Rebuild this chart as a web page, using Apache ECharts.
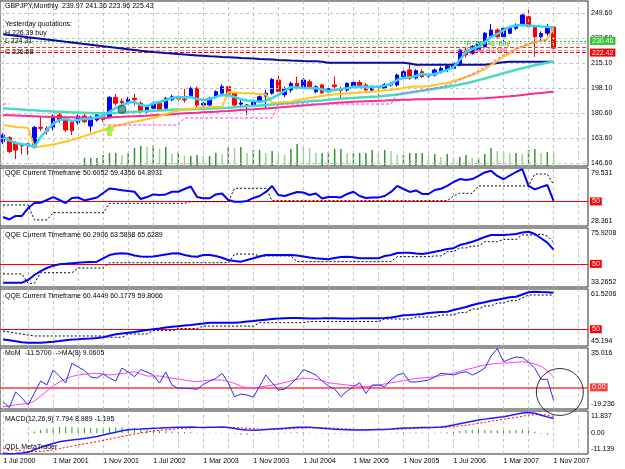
<!DOCTYPE html>
<html>
<head>
<meta charset="utf-8">
<title>GBPJPY Monthly</title>
<script src="https://cdn.jsdelivr.net/npm/echarts@6.0.0/dist/echarts.min.js"></script>
<style>
  html, body { margin: 0; padding: 0; background: #fff; }
  #chart { width: 625px; height: 469px; }
</style>
</head>
<body>
<div id="chart"></div>
<script>
// monthly bars Jul 2000 .. Nov 2007 (89 bars), plus 5 empty slots of chart shift
const monthNames = ['Jan','Feb','Mar','Apr','May','Jun','Jul','Aug','Sep','Oct','Nov','Dec'];
const months = [];
for (let k = 0; k < 94; k++) {
  const m = 6 + k;
  months.push((2000 + Math.floor(m / 12)) + '-' + String(m % 12 + 1).padStart(2, '0'));
}

// [open, close, low, high]
const ohlc = [
  [161.2,165.8,159.5,167.0],[164.0,154.5,153.5,165.0],[160.5,155.5,149.3,161.5],[159.5,158.3,152.5,160.0],
  [159.8,158.5,152.0,160.5],[157.4,171.1,156.5,172.0],[171.1,170.4,168.5,178.0],[170.4,168.5,166.0,172.0],
  [171.1,178.9,169.0,180.0],[179.6,176.1,174.0,181.0],[177.3,169.3,168.0,179.0],[175.0,168.8,165.8,176.0],
  [174.3,178.9,173.0,180.0],[178.9,175.0,174.0,180.5],[172.0,178.0,168.1,179.0],[176.1,179.6,175.0,181.0],
  [179.0,176.5,175.0,181.0],[178.0,191.7,177.0,192.5],[191.7,187.6,186.0,194.0],[189.0,188.0,186.0,191.0],
  [188.5,190.5,187.0,192.0],[191.0,190.0,186.0,194.0],[187.6,181.8,180.0,189.0],[181.8,185.3,180.0,186.5],
  [184.2,187.6,183.0,189.0],[187.6,183.0,182.0,189.0],[184.2,191.0,183.0,192.0],[190.0,192.1,189.0,193.5],
  [192.1,190.5,189.0,193.0],[190.5,189.9,188.0,197.5],[192.1,197.9,191.0,199.0],[197.9,186.4,185.0,199.0],
  [186.4,187.5,185.0,188.5],[186.4,191.0,185.0,192.0],[192.1,195.6,191.0,196.5],[194.5,199.0,193.5,200.5],
  [199.0,194.0,193.0,200.0],[194.5,186.4,185.5,195.5],[187.0,187.8,184.2,191.0],[186.0,186.5,179.6,187.0],
  [186.5,189.5,185.0,190.5],[188.7,192.1,188.0,193.0],[192.5,194.5,184.2,196.7],[194.5,204.0,193.5,205.0],
  [203.6,195.6,194.0,208.6],[193.5,197.5,192.0,199.0],[196.7,201.3,195.0,202.5],[201.3,199.0,197.0,205.9],
  [199.0,203.6,198.0,205.0],[202.4,199.0,197.5,204.0],[195.6,199.0,194.5,200.0],[200.2,194.9,194.0,201.0],
  [195.5,197.5,194.0,198.5],[200.2,199.0,196.0,206.0],[197.0,196.5,191.0,199.0],[196.7,201.3,195.5,202.0],
  [199.5,202.0,198.0,203.0],[202.0,199.0,198.0,203.5],[200.2,196.7,195.5,201.5],[196.7,199.0,196.0,200.0],
  [199.0,198.5,192.1,200.2],[198.0,200.5,197.0,201.5],[200.2,201.3,199.0,202.0],[200.2,207.0,199.0,208.0],
  [205.9,209.3,205.0,210.5],[210.5,204.8,203.5,215.5],[205.0,210.0,204.0,211.0],[209.3,205.9,205.0,211.0],
  [206.5,207.0,205.0,208.5],[207.0,210.5,206.0,211.5],[209.3,211.6,208.0,213.0],[211.0,213.0,209.0,214.0],
  [211.6,215.1,210.5,216.0],[213.9,224.2,213.0,225.0],[224.2,220.8,219.0,225.5],[222.0,226.5,221.0,227.5],
  [224.2,228.8,223.0,230.0],[226.5,235.7,226.0,236.5],[233.3,237.9,232.0,242.0],[237.9,233.3,232.0,239.0],
  [233.3,239.1,230.0,240.0],[235.7,239.1,235.0,240.0],[239.1,241.4,238.0,242.5],[241.4,248.2,240.5,249.5],
  [247.0,240.2,239.0,251.7],[240.2,233.3,219.6,241.0],[233.3,235.5,230.0,237.0],[235.7,239.1,234.0,242.0],
  [239.97,225.43,223.96,241.36]
];

// moving averages on the price window
const maFast = [164.4,162.1,160.3,159.5,158.9,157.6,164.4,169.3,173.4,176.1,176.8,175.4,176.1,176.8,176.8,178.2,178.9,181.8,184.4,186.4,
  188.1,188.5,186.4,185.7,187.6,188.5,189.9,191.2,191.7,191.7,191.9,190.5,189.9,190.5,191.9,193.3,193.0,191.9,190.5,189.5,
  189.2,188.7,189.2,191.2,193.3,196.0,198.8,198.4,198.1,197.9,197.9,197.1,196.0,196.7,197.4,197.9,198.8,199.0,198.8,199.0,
  199.0,199.8,200.9,203.6,205.0,205.4,206.3,207.7,207.0,207.7,209.1,210.5,212.5,217.3,222.8,224.9,226.5,229.7,233.1,235.2,
  237.9,240.0,241.0,241.4,241.0,240.7,240.3,240.2,239.5];
const maYellow = [172.7,172.0,171.3,171.1,170.6,157.6,157.9,158.6,159.3,160.3,161.4,162.4,163.8,165.1,166.5,167.9,169.3,170.6,172.0,173.0,
  174.1,174.9,175.8,176.6,177.5,178.9,180.2,181.6,182.7,183.3,183.9,184.4,184.7,185.0,185.2,185.2,195.3,195.0,194.7,194.5,
  194.3,194.0,193.6,187.8,188.1,188.5,188.7,189.9,190.5,191.2,191.9,192.6,193.3,193.6,194.0,194.3,194.7,195.0,195.3,195.6,
  196.0,196.4,196.7,197.4,198.1,198.8,199.1,199.0,199.5,200.2,200.9,201.5,202.9,204.3,205.7,207.0,209.1,211.1,213.9,216.6,
  219.4,222.1,224.9,226.5,228.3,229.7,230.4,231.7,239.3];
const maPink = [179.6,179.4,179.2,179.0,178.9,178.7,178.5,178.4,178.2,178.2,178.1,178.0,177.8,177.7,177.5,177.5,177.3,177.8,178.2,178.3,
  178.5,178.7,178.9,179.1,179.4,179.6,179.8,180.1,180.4,180.7,180.9,181.1,181.4,181.6,181.8,182.1,182.3,182.7,183.0,183.3,
  183.5,183.8,184.1,184.4,184.7,185.1,185.4,185.7,186.1,186.4,186.8,187.1,187.5,187.8,188.1,188.4,188.6,188.8,189.0,189.2,
  189.4,189.5,189.7,189.9,190.0,190.1,190.3,190.3,190.4,190.5,190.6,190.6,190.6,190.6,190.7,190.8,190.9,191.1,191.4,191.7,
  192.1,192.4,192.8,193.3,193.8,194.3,194.7,195.1,195.5];
const maTeal = [184.2,183.9,183.7,183.3,183.0,182.8,182.5,182.3,182.0,181.8,181.6,181.4,181.3,181.1,180.9,180.8,180.7,180.8,180.9,181.2,
  181.5,181.8,182.0,182.3,182.5,182.7,182.9,183.1,183.3,183.4,183.5,183.7,183.8,184.0,184.2,184.4,184.6,184.9,185.2,185.5,
  185.7,186.1,186.4,186.8,187.1,187.6,187.9,188.3,188.6,189.0,189.3,189.6,190.0,190.3,190.7,191.0,191.2,191.5,191.8,192.1,
  192.3,192.8,193.2,193.6,194.2,194.8,195.5,196.2,196.9,197.6,198.2,198.9,199.7,200.5,201.3,202.4,203.5,204.6,205.8,207.0,
  208.3,209.4,210.6,211.7,212.7,213.7,214.6,215.4,216.2];
const maNavy = [235.0,234.5,233.9,233.5,232.9,232.4,231.9,231.4,230.9,230.4,229.8,229.3,228.8,228.3,227.8,227.3,226.7,226.2,225.7,225.2,
  224.7,224.2,223.6,223.2,222.8,222.5,222.1,221.8,221.4,221.1,220.8,220.5,220.2,219.9,219.7,219.4,219.2,219.0,218.7,218.5,
  218.3,218.0,217.8,217.6,217.3,217.1,216.9,216.8,216.6,216.5,216.4,216.2,215.5,215.5,215.5,215.5,215.5,215.5,215.5,215.5,
  215.5,215.5,215.5,215.5,215.5,214.9,214.1,214.1,214.1,214.1,214.1,214.1,214.1,214.1,214.1,214.1,214.1,214.1,214.6,215.3,
  215.7,216.1,216.1,216.1,216.1,216.1,216.1,216.1,216.1];
const stopLine = [187.1,187.1,null,null,null,null,null,null,null,null,null,null,null,null,null,null,172.7,172.7,172.7,172.7,
  172.7,172.7,172.7,172.7,172.7,172.7,172.7,172.7,172.7,177.5,177.5,177.5,177.5,177.5,177.5,177.5,177.5,177.5,177.5,177.5,
  177.5,177.5,177.5,177.5,187.1,187.1,187.1,187.1,187.1,187.1,187.1,187.1,187.1,187.1,187.1,187.1,187.1,187.1,187.1,187.1,
  187.1,187.1,187.1,194.0,194.7,195.4,196.0,196.7,197.4,198.1,198.8,200.2,201.5,203.6,205.7,207.7,209.8,212.5,215.3,218.0,
  220.8,222.8,224.9,226.9,228.3,229.7,230.4,231.1,null];
const volume = [null,null,null,null,null,null,null,null,null,null,null,null,null,
  8,8,8,11,13,13,11,13,18,20,19,21,17,19,12,14,10,10,11,10,10,13,12,19,18,19,13,16,16,13,
  15,12,11,17,22,19,18,13,13,14,17,17,13,13,13,13,16,13,16,15,11,11,13,13,13,11,12,9,12,9,
  9,11,8,8,12,18,15,14,13,13,12,16,17,13,14,13];

const priceTicks = [146.6, 163.6, 180.6, 198.1, 215.1, 232.6, 249.6];
const greenLevels = [230.46, 228.8];
const redLevels = [226.4, 224.3, 222.42];
const taggedLevels = [230.46, 222.42];
const arrowMark = [[17, 169.3]];
const dotMark = [[19, 183.4]];

// QQE windows
const qqe1 = [36.3,34.1,37.2,37.2,44.2,48.65,48.9,51.3,53.9,51.3,48.65,53.1,53.5,50.9,52.2,53.5,57.5,61.4,60.7,59.9,
  59.2,58.6,52.2,53.9,56.2,55.7,56.2,58.6,58.6,61.0,63.2,53.9,52.8,52.8,56.2,57.0,51.3,49.8,49.8,50.4,
  53.1,54.8,58.4,63.7,55.7,54.8,56.6,58.4,57.9,55.7,57.0,52.6,53.9,53.9,53.6,56.6,58.6,54.8,53.1,53.5,
  53.6,54.8,58.4,63.7,61.0,58.4,59.7,56.6,56.6,60.1,61.2,63.7,67.2,69.8,68.9,69.8,72.5,75.6,77.1,72.5,
  69.6,72.9,76.0,78.5,63.7,60.7,62.7,64.5,50.6];
const qqe1Trail = [46.9,46.9,46.9,46.9,46.9,33.7,33.7,33.7,40.1,40.1,40.1,40.1,40.1,40.1,40.1,40.1,40.1,48.4,48.4,48.4,
  48.4,48.4,48.4,48.4,48.4,48.4,48.4,48.4,48.4,48.4,49.8,49.8,49.8,49.8,49.8,49.8,49.8,61.6,61.6,61.6,
  61.6,61.6,61.6,50.7,50.7,50.7,50.7,50.7,50.7,50.7,50.7,50.7,50.7,50.7,50.7,50.7,50.7,50.7,50.7,50.7,
  50.7,50.7,50.7,50.7,50.7,50.7,50.7,50.7,50.7,50.7,50.7,50.7,54.8,57.2,57.2,57.2,63.7,63.7,63.7,63.7,
  63.7,63.7,63.7,63.7,63.7,74.2,74.2,74.2,64.9];
const qqe2 = [36.4,36.4,36.4,36.4,38.3,41.95,44.8,47.0,48.7,49.7,50.0,50.4,50.8,51.1,51.4,51.6,53.9,56.4,57.3,57.6,
  57.3,56.0,55.3,55.2,55.3,56.0,56.8,57.5,57.6,56.4,55.5,55.2,56.4,56.4,55.7,54.4,52.8,52.1,51.6,52.8,
  54.0,55.3,56.4,56.4,56.4,56.4,56.4,56.0,55.3,54.6,54.1,53.7,53.3,54.2,54.9,55.2,54.7,54.0,54.0,54.0,
  54.0,55.7,56.4,57.8,58.1,58.1,57.5,57.1,57.8,58.8,59.7,60.7,61.3,63.6,64.7,66.0,67.6,69.4,70.9,70.9,
  70.9,71.2,71.6,72.7,73.2,71.6,68.5,65.3,60.3];
const qqe2Trail = [42.7,42.7,42.7,42.7,35.9,35.9,43.6,43.6,43.6,43.6,43.6,43.6,47.0,47.0,47.0,47.0,47.0,50.8,50.8,50.8,
  50.8,50.8,50.8,50.8,50.8,50.8,50.8,50.8,50.8,50.8,50.8,50.8,50.8,50.8,50.8,50.8,50.8,57.1,57.1,57.1,
  57.1,55.7,55.7,55.7,55.7,55.7,55.7,51.6,51.6,51.6,51.6,51.6,51.6,51.6,51.6,51.6,51.6,51.6,51.6,51.6,
  51.6,51.6,51.6,55.2,55.2,55.2,55.2,55.2,55.2,55.7,55.7,58.8,58.8,61.5,61.5,62.9,62.9,66.0,66.0,66.0,
  67.7,67.7,67.7,70.9,70.9,70.9,71.6,70.1,65.6];
const qqe3 = [47.06,46.83,46.57,46.28,46.14,46.14,46.14,46.28,46.43,46.63,46.86,47.06,47.14,47.26,47.37,47.49,47.69,48.12,48.55,48.78,
  49.01,49.23,49.49,49.75,49.98,50.21,50.47,50.70,50.87,51.04,51.21,51.44,51.64,51.87,51.87,51.87,51.87,51.87,52.01,52.21,
  52.36,52.56,52.73,52.90,53.07,53.13,53.18,53.20,53.15,53.10,53.10,53.12,53.15,53.13,53.10,53.08,53.10,53.12,53.15,53.13,
  53.13,53.22,53.36,53.65,54.02,54.10,54.22,54.36,54.65,54.79,54.93,55.02,55.51,55.93,56.36,56.94,57.37,57.74,58.14,58.43,
  58.80,59.14,59.32,59.95,60.58,60.75,60.66,60.58,60.44];
const qqe3Trail = [49.5,49.2,48.9,48.6,48.35,48.06,48.06,48.06,48.06,48.06,48.06,48.06,48.06,48.06,48.06,48.06,48.06,47.69,47.69,47.69,
  48.63,48.63,48.63,48.63,49.6,49.6,49.6,49.6,50.2,50.2,50.2,50.2,50.9,50.9,50.9,50.9,50.9,50.9,50.9,50.9,
  50.9,51.87,51.87,51.87,51.87,51.87,51.87,51.87,51.87,52.2,52.2,52.2,52.2,52.2,52.2,52.2,52.2,52.2,52.2,52.2,
  52.2,52.93,52.93,52.93,52.93,52.93,53.5,53.5,53.5,53.5,54.07,54.07,54.07,54.8,54.8,55.8,55.8,56.65,56.65,57.5,
  57.5,58.2,58.2,58.94,59.8,59.8,59.8,59.8,59.81];

// momentum and its MA(8)
const mom = [-13.0,-18.0,-4.1,-9.5,-15.7,-5.0,5.6,2.1,15.4,10.1,3.9,21.4,18.1,15.0,9.2,8.3,11.9,8.3,5.6,17.2,
  13.6,9.5,15.9,13.6,11.0,3.9,13.6,2.0,-0.8,-0.8,-1.2,-1.7,2.5,5.5,8.0,12.5,4.0,-8.3,-6.0,-6.8,
  -8.8,1.0,11.0,4.0,-2.3,-1.7,3.0,8.3,15.9,13.6,11.0,5.6,1.2,-1.5,-8.3,-3.2,0.6,4.1,-5.3,2.1,
  2.1,0.6,6.5,11.0,12.5,4.8,4.8,5.6,6.5,9.2,12.5,11.9,11.0,12.8,13.9,11.0,13.6,17.0,27.9,34.5,
  22.8,25.2,27.0,26.5,22.5,17.0,7.2,7.2,-11.57];
const momMa = [-17.2,-16.4,-15.6,-14.8,-14.4,-12.1,-7.7,-3.2,1.2,4.8,7.4,9.7,11.0,11.6,12.3,12.5,11.9,11.0,11.5,12.3,
  13.2,13.9,11.9,10.1,10.1,10.1,9.2,8.1,7.4,6.5,5.6,5.0,5.9,6.5,6.5,6.5,5.2,3.6,1.2,-0.8,
  -0.6,0.3,1.2,2.1,3.0,4.3,5.6,7.2,8.1,7.9,7.2,6.1,4.1,3.4,2.8,2.1,1.6,1.0,0.6,1.2,
  2.1,3.0,4.1,5.0,5.9,6.8,8.1,8.3,8.8,9.5,10.5,11.4,12.5,14.1,15.9,17.0,18.6,19.9,20.8,21.2,
  21.7,21.9,22.3,22.8,22.1,20.8,18.6,15.0,9.06];
const circleMark = [[89, -4.1]];

// MACD(12,26,9)
const macd = [-10.8,-11.0,-10.9,-10.6,-10.2,-8.9,-7.6,-6.5,-5.5,-4.6,-4.0,-3.6,-3.3,-2.8,-2.3,-1.8,-1.0,-0.2,0.5,1.3,
  1.8,2.1,2.2,2.4,2.6,2.7,2.9,3.0,3.1,3.2,3.3,3.1,3.0,3.1,3.2,3.3,3.0,2.5,2.0,1.7,
  1.6,1.7,2.0,2.2,2.4,2.6,2.9,3.1,3.2,3.1,2.9,2.6,2.3,2.1,1.9,1.8,1.7,1.7,1.7,1.8,
  1.9,2.0,2.2,2.5,2.7,2.8,2.9,3.0,3.0,3.1,3.3,3.7,4.3,5.0,5.7,6.4,7.0,7.5,8.0,8.4,
  8.8,9.4,10.1,10.8,11.0,10.6,9.6,8.7,7.79];
const macdSignal = [-8.0,-8.6,-9.1,-9.5,-9.8,-9.9,-9.8,-9.4,-8.9,-8.3,-7.6,-7.0,-6.3,-5.7,-5.1,-4.5,-3.9,-3.2,-2.5,-1.8,
  -1.1,-0.5,0.1,0.6,1.1,1.5,1.8,2.1,2.4,2.6,2.8,2.9,3.0,3.0,3.0,3.1,3.1,3.0,2.8,2.6,
  2.3,2.1,2.0,2.0,2.1,2.2,2.4,2.6,2.7,2.9,2.9,2.9,2.8,2.6,2.4,2.3,2.1,2.0,1.9,1.8,
  1.8,1.9,2.0,2.1,2.2,2.4,2.6,2.7,2.8,2.9,3.0,3.2,3.5,3.8,4.2,4.7,5.3,5.8,6.4,6.9,
  7.4,7.9,8.4,9.0,9.6,9.9,10.0,9.6,8.99];
const macdHist = [-0.3,-0.2,-0.1,0.1,0.3,0.9,1.8,2.5,3.0,3.3,3.4,3.3,3.0,2.9,2.8,2.7,2.9,3.0,3.0,3.1,
  2.9,2.6,2.1,1.8,1.5,1.2,1.1,0.9,0.7,0.6,0.5,0.2,0.1,0.1,0.2,0.2,-0.1,-0.5,-0.8,-0.9,
  -0.7,-0.4,0.1,0.2,0.3,0.4,0.5,0.5,0.5,0.2,0.1,-0.3,-0.5,-0.5,-0.5,-0.5,-0.4,-0.3,-0.2,0.1,
  0.1,0.1,0.2,0.4,0.5,0.4,0.3,0.3,0.2,0.2,0.3,0.5,0.8,1.2,1.5,1.7,1.7,1.7,1.6,1.5,
  1.4,1.5,1.7,1.8,1.4,0.7,-0.4,-0.9,-1.195];

// ---- layout ----
const FONT = 'Liberation Sans, Arial, sans-serif';
const panels = [
  { top: 1, height: 165 },
  { top: 168, height: 58 },
  { top: 228, height: 59 },
  { top: 289, height: 57 },
  { top: 348, height: 61 },
  { top: 411, height: 43 }
];
const vGrid = [];
for (let k = 0; k < months.length; k += 4) vGrid.push(k);

const grid = panels.map(p => ({
  left: 0, right: 37, top: p.top, height: p.height,
  show: true, borderColor: '#2a2a2a', borderWidth: 1, backgroundColor: '#fff'
}));

const xAxis = panels.map((p, i) => ({
  type: 'category', gridIndex: i, data: months, boundaryGap: true,
  axisLine: { show: false }, axisTick: { show: false }, splitLine: { show: false },
  axisLabel: i === panels.length - 1 ? {
    show: true, interval: 7, align: 'left', margin: 4, fontSize: 7, color: '#000', fontFamily: FONT,
    formatter: v => { const [y, m] = v.split('-'); return '1 ' + monthNames[+m - 1] + ' ' + y; }
  } : { show: false }
}));

function edgeAxis(gi, min, max, labels) {
  return {
    type: 'value', gridIndex: gi, position: 'right', min, max, scale: true,
    axisLine: { show: false }, axisTick: { show: false }, splitLine: { show: false },
    axisLabel: {
      customValues: labels.map(l => l[0]), margin: 3, fontSize: 7, color: '#000', fontFamily: FONT,
      formatter: v => {
        const hit = labels.find(l => Math.abs(l[0] - v) < 1e-6);
        const t = hit ? hit[1] : '';
        if (Math.abs(v - max) < 1e-6) return '{t|' + t + '}';
        if (Math.abs(v - min) < 1e-6) return '{b|' + t + '}';
        return t;
      },
      rich: {
        t: { padding: [10, 0, 0, 0], fontSize: 7, color: '#000', fontFamily: FONT },
        b: { padding: [0, 0, 10, 0], fontSize: 7, color: '#000', fontFamily: FONT }
      }
    }
  };
}

const yAxis = [
  {
    type: 'value', gridIndex: 0, position: 'right', min: 144.54, max: 257.84,
    axisLine: { show: false }, axisTick: { show: false }, splitLine: { show: false },
    axisLabel: { customValues: priceTicks, margin: 3, fontSize: 7, color: '#000', fontFamily: FONT, formatter: v => v.toFixed(2) }
  },
  { type: 'value', gridIndex: 0, min: 0, max: 165, show: false },
  edgeAxis(1, 28.361, 79.531, [[28.361, '28.361'], [79.531, '79.531']]),
  edgeAxis(2, 33.2652, 75.9208, [[33.2652, '33.2652'], [75.9208, '75.9208']]),
  edgeAxis(3, 45.194, 61.5206, [[45.194, '45.194'], [61.5206, '61.5206']]),
  edgeAxis(4, -19.236, 35.016, [[-19.236, '-19.236'], [35.016, '35.016']]),
  edgeAxis(5, -11.139, 11.837, [[-11.139, '-11.139'], [0, '0.00'], [11.837, '11.837']])
];

const gridLineStyle = { color: '#c4c4c4', width: 1, type: [3, 3] };
function gridSeries(gi, yi, hVals) {
  const data = vGrid.map(k => ({ xAxis: k }));
  (hVals || []).forEach(v => data.push({ yAxis: v }));
  return {
    type: 'line', xAxisIndex: gi, yAxisIndex: yi, data: [], z: 1, silent: true,
    markLine: { silent: true, symbol: ['none', 'none'], animation: false, label: { show: false }, lineStyle: gridLineStyle, data }
  };
}
function tagLine(value, color, text, width, type) {
  return {
    yAxis: value,
    lineStyle: { color, width: width || 1, type: type || 'solid' },
    label: text ? {
      show: true, position: 'end', formatter: text, distance: 2, fontSize: 7, fontFamily: FONT,
      color: '#fff', backgroundColor: color, padding: [1, 2, 0, 2]
    } : { show: false }
  };
}
function markSeries(gi, yi, lines, z) {
  return {
    type: 'line', xAxisIndex: gi, yAxisIndex: yi, data: [], z: z || 3, silent: true,
    markLine: { silent: true, symbol: ['none', 'none'], animation: false, data: lines }
  };
}
function line(gi, yi, data, color, width, type, z) {
  return {
    type: 'line', xAxisIndex: gi, yAxisIndex: yi, data, showSymbol: false, symbol: 'none',
    connectNulls: false, z: z || 5, silent: true,
    lineStyle: { color, width, type: type || 'solid' }
  };
}

const series = [
  // main price window
  gridSeries(0, 0, priceTicks),
  {
    type: 'bar', xAxisIndex: 0, yAxisIndex: 1, data: volume, barWidth: 1.5, z: 2, silent: true,
    itemStyle: { color: p => (p.dataIndex > 0 && volume[p.dataIndex - 1] != null && p.value < volume[p.dataIndex - 1]) ? '#9ccf9c' : '#2f962f' }
  },
  markSeries(0, 0, [
    tagLine(greenLevels[0], '#2fc42f', taggedLevels.includes(greenLevels[0]) ? '230.46' : null, 1, [2, 2]),
    tagLine(greenLevels[1], '#8fe08f', null, 1, [2, 2]),
    tagLine(redLevels[0], '#ff3030', null, 1, [4, 2]),
    tagLine(redLevels[1], '#ff9090', null, 1, [4, 2]),
    tagLine(redLevels[2], '#ff0000', taggedLevels.includes(redLevels[2]) ? '222.42' : null, 1, [4, 2])
  ], 3),
  {
    type: 'candlestick', xAxisIndex: 0, yAxisIndex: 0, data: ohlc, barWidth: 4, z: 4, silent: true,
    itemStyle: { color: '#0000ff', color0: '#ff0000', borderColor: '#0000ff', borderColor0: '#ff0000', borderWidth: 1 }
  },
  line(0, 0, maNavy, '#0a0aa8', 2),
  line(0, 0, maTeal, '#45dcc0', 2.5),
  line(0, 0, maPink, '#ff2a8c', 2),
  line(0, 0, maYellow, '#ffc81e', 2),
  line(0, 0, stopLine, '#ff33ff', 1, [3, 2]),
  line(0, 0, maFast, '#33d6f2', 2.5, 'solid', 6),
  {
    type: 'scatter', xAxisIndex: 0, yAxisIndex: 0, data: arrowMark, z: 7, silent: true,
    symbol: 'path://M5 0 L10 6 L7 6 L7 11 L3 11 L3 6 L0 6 Z', symbolSize: [9, 11],
    itemStyle: { color: '#7cf23c', borderColor: '#d8d800', borderWidth: 1 }
  },
  {
    type: 'scatter', xAxisIndex: 0, yAxisIndex: 0, data: dotMark, z: 7, silent: true,
    symbol: 'circle', symbolSize: 8,
    itemStyle: { color: '#3c8f8f', borderColor: '#134848', borderWidth: 1 },
    markPoint: {
      silent: true, symbol: 'circle', symbolSize: 1, itemStyle: { color: 'rgba(0,0,0,0)' },
      data: [
        { coord: [74, 228.0], label: { show: true, position: 'right', distance: 0, formatter: 'R 230.46  buy', color: '#33b833', fontSize: 7, fontFamily: FONT } },
        { coord: [74, 224.4], label: { show: true, position: 'right', distance: 0, formatter: 'S 222.42 sell', color: '#ff5050', fontSize: 7, fontFamily: FONT } }
      ]
    }
  },

  // QQE windows
  gridSeries(1, 2),
  markSeries(1, 2, [tagLine(50, '#ff0000', '50')], 3),
  line(1, 2, qqe1Trail, '#000', 1, [2, 2]),
  line(1, 2, qqe1, '#0000ff', 2),
  gridSeries(2, 3),
  markSeries(2, 3, [tagLine(50, '#ff0000', '50')], 3),
  line(2, 3, qqe2Trail, '#000', 1, [2, 2]),
  line(2, 3, qqe2, '#0000ff', 2),
  gridSeries(3, 4),
  markSeries(3, 4, [tagLine(50, '#ff0000', '50')], 3),
  line(3, 4, qqe3Trail, '#000', 1, [2, 2]),
  line(3, 4, qqe3, '#0000ff', 2),

  // momentum
  gridSeries(4, 5),
  markSeries(4, 5, [tagLine(0, '#ff3b3b', '0.00', 1.5)], 3),
  line(4, 5, momMa, '#ff3cff', 1),
  line(4, 5, mom, '#2a2aff', 1),
  {
    type: 'scatter', xAxisIndex: 4, yAxisIndex: 5, data: circleMark, z: 10, silent: true, clip: false,
    symbol: 'circle', symbolSize: 47,
    itemStyle: { color: 'rgba(0,0,0,0)', borderColor: '#000', borderWidth: 1 }
  },

  // MACD
  gridSeries(5, 6),
  {
    type: 'bar', xAxisIndex: 5, yAxisIndex: 6, data: macdHist, barWidth: 1, z: 2, silent: true,
    itemStyle: { color: '#1e9e1e' }
  },
  line(5, 6, macdSignal, '#ff0000', 1, [2, 2]),
  line(5, 6, macd, '#1e1eff', 1.5)
];

const titleStyle = { fontSize: 7, fontWeight: 'normal', color: '#000', fontFamily: FONT };
const texts = [
  ['GBPJPY,Monthly  239.97 241.36 223.96 225.43', 5, 3],
  ['Yesterday quotations:', 5, 21],
  ['H 226.39 buy', 5, 30],
  ['L 224.31', 5, 38],
  ['C 226.68', 5, 49],
  ['QQE Current Timeframe 50.6052 59.4356 64.8931', 5, 170],
  ['QQE Current Timeframe 60.2906 63.5898 65.6289', 5, 232],
  ['QQE Current Timeframe 60.4449 60.1779 59.8066', 5, 293],
  ['MoM  -11.5700  ->MA(8) 9.0605', 5, 350],
  ['MACD(12,26,9) 7.794 8.989 -1.195', 5, 416],
  ['QDL MetaTrader', 5, 444]
];
const title = texts.map(t => ({ text: t[0], left: t[1], top: t[2], padding: 0, textStyle: titleStyle }));

const chart = echarts.init(document.getElementById('chart'), null, { renderer: 'canvas' });
chart.setOption({
  animation: false,
  backgroundColor: '#fff',
  textStyle: { fontFamily: FONT },
  title,
  grid,
  xAxis,
  yAxis,
  series
});
</script>
</body>
</html>
